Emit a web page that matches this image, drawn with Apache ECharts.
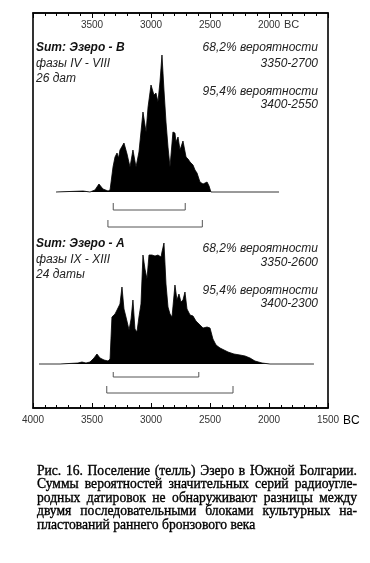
<!DOCTYPE html>
<html>
<head>
<meta charset="utf-8">
<script src="https://cdn.jsdelivr.net/npm/echarts@6/dist/echarts.min.js"></script>
<style>
html,body{margin:0;padding:0;background:#fff;}
#wrap{position:relative;width:370px;height:563px;overflow:hidden;}
#chart{position:absolute;left:0;top:0;width:370px;height:563px;}
#cap{position:absolute;left:37px;top:464px;width:320px;font-family:"Liberation Serif","DejaVu Serif",serif;font-size:13.6px;line-height:13.4px;color:#000;-webkit-text-stroke:0.35px #000;}
#cap div{text-align:justify;text-align-last:justify;white-space:nowrap;}
#cap div.last{text-align-last:left;}
</style>
</head>
<body>
<div id="wrap">
<div id="chart"></div>
<div id="cap"></div>
</div>
<script>
// ---- data ----
var yearsB = [3805,3576,3517,3475,3441,3407,3364,3347,3322,3305,3288,3275,3263,3229,3203,3178,3153,3127,3102,3068,3042,3025,3000,2975,2958,2941,2924,2907,2890,2873,2856,2839,2814,2797,2788,2771,2754,2729,2703,2686,2669,2644,2627,2610,2585,2559,2525,2508,2492,1915];
var valuesB = [0,1,0,2,8,3,1,2,25,35,39,34,42,49,38,25,42,25,40,80,60,85,107,97,99,90,110,137,102,70,45,25,60,59,50,55,42,51,35,33,30,27,22,19,10,8,10,6,0,0];
var yearsA = [3949,3771,3619,3585,3551,3517,3483,3458,3432,3398,3364,3347,3331,3305,3288,3263,3246,3229,3212,3186,3169,3153,3136,3119,3102,3085,3068,3051,3034,3017,2992,2966,2941,2915,2907,2890,2873,2856,2839,2822,2797,2780,2763,2746,2729,2712,2695,2669,2644,2619,2593,2559,2525,2500,2475,2449,2415,2381,2347,2297,2246,2203,2161,2119,2059,1992,1619];
var valuesA = [0,0,1,2,1,2,6,10,6,4,3,5,47,50,54,60,77,55,47,34,45,64,35,32,47,60,109,95,85,109,109,108,109,107,112,121,80,57,50,47,79,64,70,62,64,72,55,49,48,43,40,36,37,36,25,19,16,14,12,10,9,8,6,3,1,0,0];
var range68B = [3320, 2710];
var range95B = [3365, 2565];
var range68A = [3320, 2595];
var range95A = [3375, 2305];
var axisMin = 1500, axisMax = 4000, majorStep = 500;
var topLabels = [3500, 3000, 2500, 2000];
var bottomLabels = [4000, 3500, 3000, 2500, 2000, 1500];
var textB = {title: 'Sum: Эзеро - B', phases: 'фазы IV - VIII', count: '26 дат', p68: '68,2% вероятности', r68: '3350-2700', p95: '95,4% вероятности', r95: '3400-2550'};
var textA = {title: 'Sum: Эзеро - A', phases: 'фазы IX - XIII', count: '24 даты', p68: '68,2% вероятности', r68: '3350-2600', p95: '95,4% вероятности', r95: '3400-2300'};
var captionLines = [
  'Рис. 16. Поселение (телль) Эзеро в Южной Болгарии.',
  'Суммы вероятностей значительных серий радиоугле-',
  'родных датировок не обнаруживают разницы между',
  'двумя последовательными блоками культурных на-',
  'пластований раннего бронзового века'
];

// caption
var cap = document.getElementById('cap');
captionLines.forEach(function(l, i){
  var d = document.createElement('div');
  d.textContent = l;
  if (i === captionLines.length - 1) d.className = 'last';
  cap.appendChild(d);
});

function zip(xs, ys){ return xs.map(function(x, i){ return [x, ys[i]]; }); }
function bracket(r, yLine, yTick){ return [[r[0], yTick],[r[0], yLine],[r[1], yLine],[r[1], yTick]]; }

var chart = echarts.init(document.getElementById('chart'), null, {renderer: 'canvas'});
var L = 33, R = 42;
var axFont = {fontFamily: 'Liberation Sans, Arial, sans-serif', fontSize: 10, color: '#333'};

function hiddenX(gi){ return {gridIndex: gi, type: 'value', min: axisMin, max: axisMax, inverse: true, show: false}; }
function hiddenY(gi){ return {gridIndex: gi, type: 'value', min: -40, max: 150, show: false}; }

var tf = 'Liberation Sans, Arial, sans-serif';
function panelTexts(t, y0, yr){
  var g = [];
  g.push({type:'text', left: 36, top: y0 - 7, style:{text: t.title, font: 'italic bold 12px ' + tf, fill:'#111'}});
  g.push({type:'text', left: 36, top: y0 + 9, style:{text: t.phases, font: 'italic 12px ' + tf, fill:'#222'}});
  g.push({type:'text', left: 36, top: y0 + 24, style:{text: t.count, font: 'italic 12px ' + tf, fill:'#222'}});
  var rx = 318;
  var lines = [t.p68, t.r68, t.p95, t.r95];
  lines.forEach(function(s, i){
    g.push({type:'text', x: rx, y: yr[i], style:{text: s, font: 'italic 12px ' + tf, fill:'#222', align:'right', verticalAlign:'middle'}});
  });
  return g;
}

var graphics = [].concat(
  panelTexts(textB, 49, [48, 64, 92, 105]),
  panelTexts(textA, 245, [249, 263, 291, 304]),
  [
    {type:'text', x: 284, y: 25, style:{text:'BC', font:'11px ' + tf, fill:'#333', verticalAlign:'middle'}},
    {type:'text', x: 343, y: 421, style:{text:'BC', font:'12px ' + tf, fill:'#000', verticalAlign:'middle'}}
  ]
);

var option = {
  animation: false,
  backgroundColor: '#fff',
  grid: [
    {left: L, right: R, top: 13, bottom: 155, show: true, borderColor: '#000', borderWidth: 1.6, backgroundColor: 'transparent'},
    {left: L, right: R, top: 42, height: 190},
    {left: L, right: R, top: 214, height: 190}
  ],
  xAxis: [
    {gridIndex: 0, type: 'value', position: 'bottom', min: axisMin, max: axisMax, interval: majorStep, inverse: true,
     axisLine: {show: true, lineStyle: {color: '#000', width: 1.6}},
     axisTick: {show: true, inside: true, length: 5, lineStyle: {color: '#000', width: 1}},
     minorTick: {show: true, splitNumber: 5, length: 3, lineStyle: {color: '#000', width: 1}},
     splitLine: {show: false},
     axisLabel: Object.assign({margin: 7, formatter: function(v){ return bottomLabels.indexOf(v) >= 0 ? String(v) : ''; }}, axFont)
    },
    {gridIndex: 0, type: 'value', position: 'top', min: axisMin, max: axisMax, interval: majorStep, inverse: true,
     axisLine: {show: true, lineStyle: {color: '#000', width: 1.6}},
     axisTick: {show: true, inside: true, length: 5, lineStyle: {color: '#000', width: 1}},
     minorTick: {show: true, splitNumber: 5, length: 3, lineStyle: {color: '#000', width: 1}},
     splitLine: {show: false},
     axisLabel: Object.assign({inside: true, margin: 7, formatter: function(v){ return topLabels.indexOf(v) >= 0 ? String(v) : ''; }}, axFont)
    },
    hiddenX(1), hiddenX(2)
  ],
  yAxis: [
    {gridIndex: 0, type: 'value', show: false, min: 0, max: 1},
    hiddenY(1), hiddenY(2)
  ],
  series: [
    {type: 'line', xAxisIndex: 2, yAxisIndex: 1, data: zip(yearsB, valuesB), symbol: 'none', smooth: false,
     lineStyle: {color: '#000', width: 0.8}, areaStyle: {color: '#000', opacity: 1, origin: 'auto'}},
    {type: 'line', xAxisIndex: 3, yAxisIndex: 2, data: zip(yearsA, valuesA), symbol: 'none', smooth: false,
     lineStyle: {color: '#000', width: 0.8}, areaStyle: {color: '#000', opacity: 1, origin: 'auto'}},
    {type: 'line', xAxisIndex: 2, yAxisIndex: 1, data: bracket(range68B, -18, -11), symbol: 'none', lineStyle: {color: '#555', width: 1}},
    {type: 'line', xAxisIndex: 2, yAxisIndex: 1, data: bracket(range95B, -35, -28), symbol: 'none', lineStyle: {color: '#555', width: 1}},
    {type: 'line', xAxisIndex: 3, yAxisIndex: 2, data: bracket(range68A, -13, -8), symbol: 'none', lineStyle: {color: '#555', width: 1}},
    {type: 'line', xAxisIndex: 3, yAxisIndex: 2, data: bracket(range95A, -29, -22), symbol: 'none', lineStyle: {color: '#555', width: 1}}
  ],
  graphic: graphics
};
chart.setOption(option);
</script>
</body>
</html>
